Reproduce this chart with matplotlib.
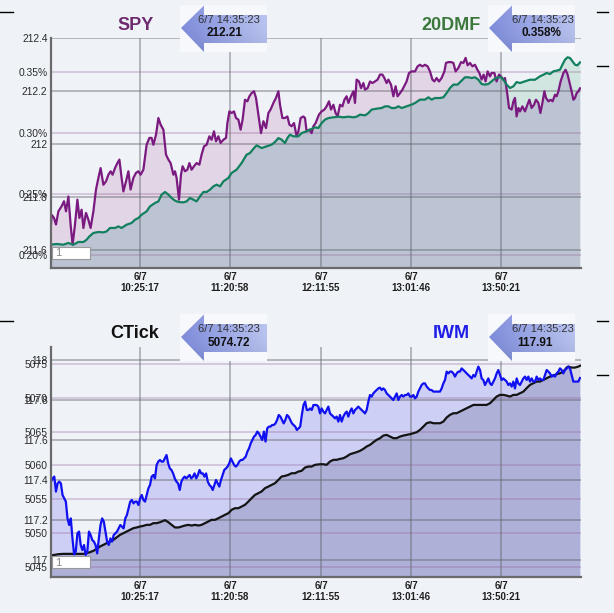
import numpy as np
import matplotlib
matplotlib.use("Agg")
import matplotlib.pyplot as plt
from matplotlib.patches import Polygon, Rectangle
from matplotlib.lines import Line2D

plt.rcParams["font.family"] = ["Liberation Sans", "DejaVu Sans"]
BG = "#eff3f7"

# x axis is bar index (one bar ~ 2px)
tick_bars = [44.5, 89.5, 135, 180, 225]
tick_labels = ["6/7\n10:25:17", "6/7\n11:20:58", "6/7\n12:11:55", "6/7\n13:01:46", "6/7\n13:50:21"]

# ---- top panel: SPY (price) and 20DMF (%) ----
spy_pts = [
    (0, 211.696), (0.3, 211.733), (1.5, 211.721), (2.5, 211.696), (3.7, 211.746), (5.3, 211.765),
    (6.5, 211.784), (7.5, 211.746), (8.7, 211.802), (9.8, 211.696), (10.8, 211.620), (12, 211.696),
    (13.2, 211.790), (14.2, 211.721), (15.3, 211.752), (16.2, 211.683), (17.5, 211.740), (18.7, 211.714),
    (19.8, 211.683), (21.2, 211.746), (22.5, 211.828), (23.7, 211.872), (24.8, 211.909), (26.2, 211.846),
    (27.5, 211.859), (28.7, 211.884), (29.8, 211.897), (30.8, 211.884), (32, 211.909), (33.2, 211.928),
    (34.2, 211.941), (35.3, 211.872), (36.2, 211.821), (37.5, 211.859), (38.7, 211.897), (39.8, 211.828),
    (41.2, 211.872), (42.5, 211.891), (43.7, 211.897), (44.8, 211.884), (46.2, 211.903), (47.8, 211.997),
    (49.2, 212.023), (50.3, 212.023), (51.2, 211.997), (52.5, 212.035), (53.7, 212.098), (54.8, 212.073),
    (56.2, 212.054), (57.5, 211.960), (58.7, 211.941), (59.8, 211.928), (61.2, 211.884), (62, 211.897),
    (62.8, 211.872), (64, 211.790), (65, 211.884), (65.8, 211.916), (67, 211.897), (68.2, 211.903),
    (69.2, 211.928), (70.3, 211.903), (71.5, 211.916), (72.8, 211.928), (74.2, 211.922), (75.3, 211.960),
    (76.5, 211.991), (77.8, 211.997), (79.2, 212.029), (80.3, 212.016), (81.5, 212.048), (82.5, 212.010),
    (83.7, 212.029), (84.8, 212.004), (86.2, 212.016), (87.5, 212.023), (88.2, 212.079), (89.2, 212.123),
    (90.3, 212.117), (91.5, 212.123), (92.5, 212.098), (93.7, 212.092), (94.8, 212.054), (95.8, 212.092),
    (97, 212.167), (98.2, 212.161), (99.2, 212.180), (100.3, 212.192), (101.5, 212.199), (102.5, 212.174),
    (103.7, 212.111), (105, 212.041), (106.2, 212.086), (107.5, 212.060), (108.7, 212.117), (109.8, 212.130),
    (111.2, 212.155), (112.5, 212.174), (113.7, 212.199), (114.5, 212.148), (115.7, 212.098), (117, 212.098),
    (118.2, 212.104), (119.2, 212.073), (120.3, 212.067), (121.5, 212.079), (122.8, 212.029), (123.7, 212.048),
    (124.8, 212.098), (126.2, 212.104), (127, 212.098), (127.8, 212.048), (129.2, 212.054), (130.3, 212.041),
    (131.2, 212.067), (132.3, 212.079), (134, 212.111), (135.3, 212.123), (136.7, 212.130), (137.8, 212.142),
    (139, 212.161), (140, 212.130), (141.2, 212.148), (142.3, 212.117), (143.3, 212.104), (144.5, 212.148),
    (145.7, 212.142), (146.7, 212.167), (147.8, 212.180), (148.7, 212.155), (150, 212.180), (151.2, 212.199),
    (152, 212.155), (152.8, 212.243), (154, 212.236), (155, 212.211), (156.2, 212.230), (157, 212.205),
    (158.3, 212.211), (159.5, 212.236), (160.7, 212.230), (162, 212.236), (163.3, 212.243), (164.5, 212.262),
    (165.7, 212.262), (166.7, 212.249), (167.8, 212.230), (168.7, 212.243), (170, 212.224), (171.2, 212.180),
    (172.3, 212.218), (173.3, 212.180), (174.5, 212.192), (175.7, 212.205), (177, 212.224), (177.8, 212.236),
    (179, 212.268), (180.3, 212.274), (182, 212.274), (183.3, 212.293), (184.5, 212.299), (185.7, 212.293),
    (187, 212.299), (188.3, 212.293), (189.5, 212.274), (190.7, 212.243), (191.7, 212.236), (192.8, 212.249),
    (194, 212.236), (195.3, 212.249), (196.7, 212.274), (197.5, 212.306), (198.7, 212.309), (200, 212.309),
    (201.2, 212.306), (202.3, 212.274), (203.7, 212.287), (205, 212.309), (206.2, 212.306), (207.3, 212.325),
    (208.3, 212.297), (209.5, 212.306), (210.7, 212.293), (212, 212.299), (213.2, 212.280), (214.2, 212.268),
    (215.3, 212.243), (216.3, 212.262), (217.3, 212.236), (218.3, 212.274), (219.5, 212.255), (220.3, 212.268),
    (221.7, 212.268), (222.8, 212.236), (224, 212.262), (225, 212.255), (226.2, 212.243), (227, 212.249),
    (228.3, 212.180), (229, 212.136), (230.3, 212.130), (231.2, 212.161), (232, 212.174), (232.8, 212.104),
    (233.7, 212.136), (234.5, 212.123), (235.7, 212.142), (237, 212.123), (238.2, 212.148), (239.2, 212.167),
    (240.3, 212.136), (241.5, 212.148), (242.5, 212.167), (243.7, 212.155), (244.7, 212.117), (245.7, 212.155),
    (246.7, 212.199), (247.5, 212.174), (248.7, 212.161), (249.8, 212.167), (250.8, 212.161), (252, 212.186),
    (252.8, 212.180), (253.7, 212.199), (254.8, 212.236), (256.2, 212.268), (257.3, 212.280), (258.3, 212.262),
    (259.5, 212.224), (260.3, 212.199), (261.2, 212.167), (262, 212.174), (262.8, 212.192), (263.7, 212.199),
    (264.5, 212.21),
]

dmf_pts = [
    (0, 0.2086), (2.8, 0.2092), (6.2, 0.2086), (8.7, 0.2100), (11.2, 0.2086), (13.7, 0.2108), (16.2, 0.2108),
    (17.8, 0.2127), (19.2, 0.2154), (21.2, 0.2182), (23.7, 0.2190), (26.2, 0.2187), (27.8, 0.2195),
    (29.5, 0.2223), (32, 0.2223), (33.7, 0.2236), (35.3, 0.2223), (37.8, 0.2250), (40.3, 0.2264),
    (42, 0.2291), (43.7, 0.2305), (45.3, 0.2332), (47.8, 0.2359), (49.5, 0.2400), (52, 0.2428),
    (53.7, 0.2441), (55.3, 0.2496), (57, 0.2518), (58.7, 0.2496), (60.3, 0.2469), (62, 0.2447),
    (63.7, 0.2436), (66.2, 0.2433), (67.8, 0.2441), (69.5, 0.2469), (71.2, 0.2455), (72.8, 0.2441),
    (74.5, 0.2482), (76.2, 0.2518), (77.8, 0.2518), (79.5, 0.2537), (81.2, 0.2564), (82.8, 0.2578),
    (84.5, 0.2564), (86.2, 0.2605), (88.7, 0.2633), (90.3, 0.2674), (92.8, 0.2701), (95.3, 0.2755),
    (97.8, 0.2824), (99.5, 0.2837), (101.5, 0.2878), (102.8, 0.2900), (105.3, 0.2878), (107.8, 0.2892),
    (110.3, 0.2906), (112, 0.2928), (113.7, 0.2960), (115.3, 0.2947), (117, 0.2919), (118.2, 0.2960),
    (119.5, 0.2988), (121.2, 0.2974), (123.7, 0.2974), (125.3, 0.3001), (127.8, 0.3015), (129.5, 0.3029),
    (132, 0.3048), (133.7, 0.3042), (135.3, 0.3083), (137, 0.3111), (138.7, 0.3124), (141.2, 0.3130),
    (143.7, 0.3135), (146.2, 0.3130), (148.7, 0.3135), (151.2, 0.3130), (152.8, 0.3135), (154.5, 0.3152),
    (157, 0.3146), (158.7, 0.3165), (160.3, 0.3193), (162.8, 0.3201), (165.3, 0.3206), (167, 0.3220),
    (168.7, 0.3220), (170.3, 0.3206), (172, 0.3206), (173.7, 0.3220), (175.3, 0.3206), (177.8, 0.3220),
    (180.3, 0.3234), (182, 0.3247), (184.5, 0.3275), (187, 0.3275), (188.7, 0.3294), (190.3, 0.3275),
    (192, 0.3288), (194.5, 0.3288), (196.2, 0.3294), (197.8, 0.3329), (199.5, 0.3370), (201.2, 0.3398),
    (203.3, 0.3398), (205.3, 0.3430), (207, 0.3458), (208.7, 0.3458), (210.3, 0.3452), (212, 0.3458),
    (213.7, 0.3438), (215.3, 0.3403), (217, 0.3398), (218.7, 0.3403), (220.3, 0.3425), (222, 0.3447),
    (223.7, 0.3458), (225, 0.3458), (226.2, 0.3438), (227.8, 0.3398), (229.5, 0.3370), (231.2, 0.3384),
    (232.8, 0.3419), (234.5, 0.3411), (237, 0.3425), (239.5, 0.3438), (242, 0.3438), (244.5, 0.3466),
    (246.2, 0.3479), (247.8, 0.3493), (249.5, 0.3485), (251.2, 0.3507), (252.8, 0.3512), (254.5, 0.3520),
    (255.7, 0.3561), (257, 0.3602), (258.3, 0.3622), (259.5, 0.3616), (260.7, 0.3589), (262, 0.3561),
    (263.2, 0.3556), (264.5, 0.358),
]

# ---- bottom panel: CTick and IWM ----
ctick_pts = [
    (0, 5046.68), (3.7, 5046.87), (6.2, 5046.92), (8.7, 5046.92), (11.2, 5046.92), (13.7, 5046.92),
    (16.2, 5046.92), (17.8, 5047.02), (19.5, 5047.17), (21.2, 5047.37), (22.8, 5047.66), (24.5, 5048.01),
    (26.2, 5048.25), (27.8, 5048.50), (29.5, 5048.75), (31.2, 5048.99), (32.8, 5049.34), (34.5, 5049.73),
    (36.2, 5049.98), (37.8, 5050.22), (39.5, 5050.47), (41.2, 5050.72), (42.8, 5050.82), (44.5, 5050.96),
    (46.2, 5051.06), (47.8, 5051.21), (49.5, 5051.21), (51.2, 5051.46), (52.8, 5051.46), (54.5, 5051.60),
    (56.2, 5051.80), (57, 5051.90), (58.7, 5051.60), (60.3, 5051.21), (62, 5050.82), (63.7, 5050.82),
    (65.3, 5050.96), (67, 5051.11), (68.7, 5051.21), (70.3, 5051.11), (72, 5051.21), (73.7, 5051.11),
    (75.3, 5051.21), (77, 5051.46), (78.7, 5051.70), (80.3, 5051.95), (82, 5051.95), (83.7, 5052.19),
    (85.3, 5052.44), (87, 5052.69), (88.7, 5052.93), (90.3, 5053.43), (92, 5053.67), (93.7, 5053.67),
    (95.3, 5053.92), (97, 5054.17), (98.7, 5054.66), (100.3, 5055.15), (102, 5055.64), (103.7, 5055.89),
    (105.3, 5056.14), (107, 5056.63), (108.7, 5056.87), (110.3, 5057.12), (112, 5057.37), (113.7, 5057.86),
    (115.3, 5058.35), (117, 5058.45), (118.7, 5058.60), (120.3, 5058.84), (122, 5058.84), (123.7, 5059.09),
    (125.3, 5059.19), (127, 5059.68), (128.7, 5059.83), (130.3, 5059.83), (132, 5060.08), (134.5, 5060.17),
    (136.2, 5060.17), (137.8, 5060.08), (139.5, 5060.57), (141.2, 5060.82), (142.8, 5060.82), (144.5, 5060.96),
    (146.2, 5061.06), (147.8, 5061.31), (149.5, 5061.65), (151.2, 5061.80), (152.8, 5061.95), (154.5, 5062.15),
    (156.2, 5062.44), (157.8, 5062.79), (159.5, 5063.03), (161.2, 5063.43), (162.8, 5063.77), (164.5, 5064.02),
    (166.2, 5064.41), (167.8, 5064.51), (169.5, 5064.26), (171.2, 5064.02), (172.8, 5064.02), (174.5, 5064.26),
    (176.2, 5064.41), (177.8, 5064.51), (179.5, 5064.61), (181.2, 5064.76), (182.8, 5064.90), (184.5, 5065.25),
    (186.2, 5065.74), (187.8, 5066.23), (189.5, 5066.38), (191.2, 5066.23), (192.8, 5066.23), (194.5, 5066.23),
    (196.2, 5066.48), (197.8, 5067.07), (199.5, 5067.47), (201.2, 5067.71), (202.8, 5067.71), (204.5, 5067.96),
    (206.2, 5068.20), (207.8, 5068.45), (209.5, 5068.70), (211.2, 5068.94), (212.8, 5068.94), (214.5, 5068.94),
    (216.2, 5068.94), (217.8, 5068.94), (219.5, 5069.19), (221.2, 5069.68), (222.8, 5070.17), (224.5, 5070.42),
    (226.2, 5070.42), (227.8, 5070.32), (229.5, 5070.17), (231.2, 5070.42), (232.8, 5070.42), (234.5, 5070.67),
    (236.2, 5070.91), (237.8, 5071.41), (239.5, 5071.90), (241.2, 5072.15), (242.8, 5072.39), (244.5, 5072.39),
    (246.2, 5072.64), (247.8, 5072.88), (249.5, 5073.13), (251.2, 5073.28), (252.8, 5073.48), (254.5, 5073.62),
    (256.2, 5073.87), (257.8, 5074.46), (258.7, 5074.61), (260.3, 5074.46), (262, 5074.46), (263.7, 5074.61),
    (264.5, 5074.72),
]

# IWM sampled evenly: morning half, then afternoon half
iwm_am = [
    117.392, 117.408, 117.417, 117.342, 117.383, 117.392, 117.383, 117.325, 117.308, 117.292,
    117.208, 117.175, 117.208, 117.108, 117.028, 117.042, 117.133, 117.142, 117.075, 117.050,
    117.075, 117.025, 117.042, 117.142, 117.125, 117.100, 117.092, 117.075, 117.033, 117.108,
    117.175, 117.208, 117.192, 117.142, 117.092, 117.075, 117.108, 117.092, 117.125, 117.133,
    117.142, 117.158, 117.175, 117.167, 117.158, 117.208, 117.225, 117.258, 117.292, 117.300,
    117.283, 117.292, 117.292, 117.275, 117.308, 117.325, 117.300, 117.292, 117.325, 117.358,
    117.375, 117.417, 117.425, 117.408, 117.475, 117.492, 117.500, 117.492, 117.492, 117.508,
    117.525, 117.483, 117.458, 117.450, 117.433, 117.408, 117.392, 117.383, 117.350, 117.392,
    117.408, 117.417, 117.408, 117.417, 117.425, 117.408, 117.417, 117.433, 117.408, 117.425,
    117.450, 117.433, 117.433, 117.417, 117.433, 117.392, 117.375, 117.367, 117.350, 117.375,
    117.400, 117.383, 117.367, 117.400, 117.425, 117.450, 117.458, 117.467, 117.483, 117.508,
    117.492, 117.475, 117.467, 117.475, 117.492, 117.500, 117.500, 117.508, 117.517, 117.542,
    117.558, 117.583, 117.600, 117.617, 117.625, 117.642, 117.633, 117.617, 117.600, 117.642,
    117.592, 117.658, 117.667, 117.667, 117.675, 117.675, 117.683, 117.700, 117.725, 117.717,
    117.700, 117.683, 117.700, 117.725, 117.717, 117.700, 117.683, 117.675, 117.667, 117.650,
    117.658, 117.667, 117.725, 117.775, 117.792, 117.750, 117.750, 117.758, 117.750, 117.775,
]
iwm_pm = [
    117.775, 117.775, 117.767, 117.733, 117.758, 117.742, 117.733, 117.750, 117.767, 117.733,
    117.725, 117.717, 117.708, 117.717, 117.692, 117.725, 117.692, 117.717, 117.733, 117.742,
    117.717, 117.742, 117.758, 117.733, 117.750, 117.758, 117.767, 117.758, 117.750, 117.742,
    117.733, 117.750, 117.792, 117.825, 117.817, 117.833, 117.842, 117.850, 117.858, 117.862,
    117.850, 117.858, 117.850, 117.833, 117.825, 117.817, 117.808, 117.800, 117.817, 117.833,
    117.800, 117.817, 117.825, 117.817, 117.825, 117.825, 117.833, 117.817, 117.817, 117.825,
    117.808, 117.817, 117.842, 117.858, 117.875, 117.883, 117.883, 117.867, 117.858, 117.850,
    117.850, 117.842, 117.842, 117.842, 117.842, 117.842, 117.858, 117.883, 117.900, 117.942,
    117.933, 117.942, 117.942, 117.933, 117.917, 117.933, 117.942, 117.942, 117.958, 117.950,
    117.942, 117.933, 117.925, 117.917, 117.908, 117.925, 117.917, 117.942, 117.967, 117.950,
    117.908, 117.900, 117.875, 117.892, 117.908, 117.883, 117.875, 117.892, 117.908, 117.933,
    117.950, 117.925, 117.900, 117.908, 117.900, 117.892, 117.875, 117.883, 117.867, 117.892,
    117.858, 117.908, 117.883, 117.875, 117.892, 117.908, 117.917, 117.900, 117.917, 117.892,
    117.908, 117.892, 117.892, 117.917, 117.900, 117.908, 117.900, 117.900, 117.925, 117.950,
    117.942, 117.933, 117.917, 117.925, 117.917, 117.933, 117.942, 117.958, 117.950, 117.933,
    117.950, 117.958, 117.967, 117.958, 117.925, 117.892, 117.892, 117.892, 117.892, 117.91,
]

spy_ticks = [211.6, 211.8, 212.0, 212.2, 212.4]
spy_labels = ["211.6", "211.8", "212", "212.2", "212.4"]
dmf_ticks = [0.20, 0.25, 0.30, 0.35]
dmf_labels = ["0.20%", "0.25%", "0.30%", "0.35%"]
ctick_ticks = [5045, 5050, 5055, 5060, 5065, 5070, 5075]
ctick_labels = [str(v) for v in ctick_ticks]
iwm_ticks = [117.0, 117.2, 117.4, 117.6, 117.8, 118.0]
iwm_labels = ["117", "117.2", "117.4", "117.6", "117.8", "118"]

GRID_GRAY = ("#5f626b", 0.45)
GRID_PINK = ("#93639a", 0.32)


def draw_panel(ax, xa, ya, xb, yb, lim_a, lim_b, ticks_a, labels_a, ticks_b, labels_b,
               col_a, col_b, fill_a, fill_b, fill_ab, grid_a, grid_b):
    lo_a, hi_a = lim_a
    lo_b, hi_b = lim_b
    k = (hi_a - lo_a) / (hi_b - lo_b)

    def b_to_a(v):
        return lo_a + (np.asarray(v) - lo_b) * k

    def a_to_b(v):
        return lo_b + (np.asarray(v) - lo_a) / k

    ax.set_facecolor(BG)
    ax.set_xlim(0, 265)
    ax.set_ylim(lo_a, hi_a)
    yb_a = b_to_a(yb)

    # area fills: each series alone, then the shared area under both
    ax.fill_between(xa, ya, lo_a, color=fill_a, lw=0, zorder=0.5)
    poly_b = ax.fill_between(xb, yb_a, lo_a, color=fill_b, lw=0, zorder=0.6)
    both = ax.fill_between(xa, ya, lo_a, color=fill_ab, lw=0, zorder=0.7)
    both.set_clip_path(poly_b.get_paths()[0], ax.transData)

    for t in ticks_a:
        ax.axhline(t, color=grid_a[0], alpha=grid_a[1], lw=1.3, zorder=1)
    for t in ticks_b:
        ax.axhline(b_to_a(t), color=grid_b[0], alpha=grid_b[1], lw=1.3, zorder=1)
    for t in tick_bars:
        ax.axvline(t, color=GRID_GRAY[0], alpha=GRID_GRAY[1], lw=1.3, zorder=1)

    ax.plot(xa, ya, color=col_a, lw=1.6, zorder=2)
    ax.plot(xb, yb_a, color=col_b, lw=1.6, zorder=2.1)

    ax.set_xticks(tick_bars, tick_labels)
    for lab in ax.get_xticklabels():
        lab.set_fontweight("bold")
        lab.set_linespacing(1.1)
    ax.tick_params(axis="x", length=0, pad=3, labelsize=7, labelcolor="#1e1e1e")
    ax.set_yticks(ticks_a, labels_a)
    ax.tick_params(axis="y", length=0, pad=2.5, labelsize=7.4, labelcolor="#2a2a2a")

    sec = ax.secondary_yaxis("left", functions=(a_to_b, b_to_a))
    sec.set_yticks(ticks_b, labels_b)
    sec.tick_params(axis="y", length=0, pad=2.5, labelsize=7.4, labelcolor="#2a2a2a")
    sec.spines["left"].set_visible(False)

    for s in ["top", "right"]:
        ax.spines[s].set_visible(False)
    for s in ["left", "bottom"]:
        ax.spines[s].set_color("#6a6a6a")
        ax.spines[s].set_linewidth(1.6)
        ax.spines[s].set_zorder(3)


fig = plt.figure(figsize=(6.14, 6.13), dpi=100, facecolor=BG)

ax1 = fig.add_axes([51 / 614, 1 - 268 / 613, 530 / 614, 230 / 613])
spy_x, spy_y = zip(*spy_pts)
dmf_x, dmf_y = zip(*dmf_pts)
draw_panel(ax1, spy_x, spy_y, dmf_x, dmf_y, (211.532, 212.4), (0.1895, 0.378),
           spy_ticks, spy_labels, dmf_ticks, dmf_labels,
           "#7a1a80", "#12805e", "#e2d5e5", "#d2e6e1", "#bcc3d2", GRID_GRAY, GRID_PINK)

ax2 = fig.add_axes([51 / 614, 1 - 577 / 613, 530 / 614, 230 / 613])
ct_x, ct_y = zip(*ctick_pts)
iwm_x = np.concatenate([np.linspace(0, 131.2, len(iwm_am)), np.linspace(132, 264.5, len(iwm_pm))])
iwm_y = iwm_am + iwm_pm
draw_panel(ax2, ct_x, ct_y, iwm_x, iwm_y, (5043.5, 5077.5), (116.915, 118.065),
           ctick_ticks, ctick_labels, iwm_ticks, iwm_labels,
           "#141414", "#1010f0", "#d6d7e0", "#cdcff5", "#aeb0d8", GRID_PINK, GRID_GRAY)

# overlay in pixel space for titles, callouts and page bits
ov = fig.add_axes([0, 0, 1, 1], zorder=10)
ov.set_facecolor("none")
ov.axis("off")


def callout(x0, y0, when, value, cx_when, cx_value):
    ov.add_patch(Rectangle((x0, y0), 87, 47, facecolor="#f7f8fb", edgecolor="none", zorder=1))
    verts = [(x0 + 1, y0 + 23), (x0 + 24, y0 + 0.5), (x0 + 24, y0 + 10), (x0 + 87, y0 + 10),
             (x0 + 87, y0 + 38), (x0 + 24, y0 + 38), (x0 + 24, y0 + 47)]
    arrow = Polygon(verts, closed=True, facecolor="none", edgecolor="none")
    ov.add_patch(arrow)
    left = np.array([128, 142, 220]) / 255
    right = np.array([186, 196, 240]) / 255
    h = np.linspace(0, 1, 80)[None, :, None]
    v = np.linspace(0, 1, 40)[:, None, None]
    grad = left + (right - left) * h - 0.08 * v ** 3
    im = ov.imshow(np.clip(grad, 0, 1), extent=(x0, x0 + 87, y0 + 47, y0), aspect="auto",
                   origin="upper", zorder=2)
    im.set_clip_path(arrow)
    ov.text(cx_when, y0 + 15, when, ha="center", va="center", fontsize=8, color="#333333", zorder=3)
    ov.text(cx_value, y0 + 28.5, value, ha="center", va="center", fontsize=8.5, fontweight="bold",
            color="#111111", zorder=3)


callout(180, 5, "6/7 14:35:23", "212.21", 229, 225)
callout(488, 5, "6/7 14:35:23", "0.358%", 543, 541)
callout(180, 314, "6/7 14:35:23", "5074.72", 229, 229)
callout(488, 314, "6/7 14:35:23", "117.91", 543, 535)

ov.text(136, 25, "SPY", ha="center", va="center", fontsize=13, fontweight="bold", color="#6e2a6e")
ov.text(451, 25, "20DMF", ha="center", va="center", fontsize=13, fontweight="bold", color="#3c783c")
ov.text(135, 334, "CTick", ha="center", va="center", fontsize=13, fontweight="bold", color="#111111")
ov.text(451, 334, "IWM", ha="center", va="center", fontsize=13, fontweight="bold", color="#1e1ee6")

for y in [247, 556]:
    ov.add_patch(Rectangle((52, y), 38, 12, facecolor="white", edgecolor="#9a9a9a", lw=0.8, zorder=3))
    ov.text(55, y + 6.5, "1", ha="left", va="center", fontsize=8, color="#888888", zorder=4)

for y in [12, 321]:
    ov.add_line(Line2D([0, 13], [y, y], color="black", lw=1))
for y in [12, 66, 321, 375]:
    ov.add_line(Line2D([597, 608], [y, y], color="black", lw=1))

ov.set_xlim(0, 614)
ov.set_ylim(613, 0)

fig.savefig("out.png", dpi=100, facecolor=BG)
